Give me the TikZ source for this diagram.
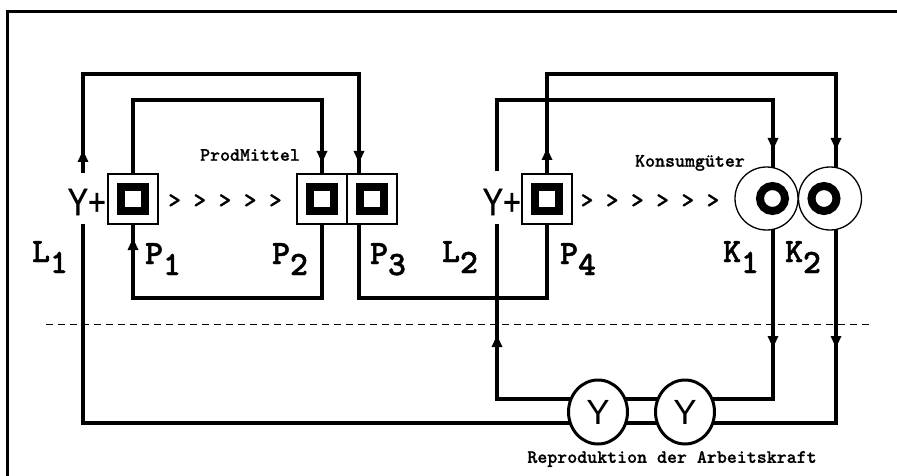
\documentclass[tikz,border=0pt]{standalone}
\usepackage{fontspec}
\usepackage{graphicx}
\setmainfont{Liberation Sans}
\newfontfamily\courb{lmmonolt10-bold.otf}[FakeBold=1.4]
\newfontfamily\courc{lmmonolt10-bold.otf}[FakeBold=0.8]
\newfontfamily\ysans{Liberation Sans}[FakeBold=1.0]
\usetikzlibrary{decorations.markings,arrows.meta,backgrounds,shapes.geometric}
\newcommand{\sublab}[2]{#1\raisebox{-11pt}{#2}}
\begin{document}
\begin{tikzpicture}[x=1pt,y=-1pt,
  conn/.style={line width=4pt},
  arr/.style={postaction={decorate},decoration={markings,mark=at position #1 with {\arrow{Triangle[width=10pt,length=12pt]}}}},
  arrtwo/.style 2 args={postaction={decorate},decoration={markings,
      mark=at position #1 with {\arrow{Triangle[width=10pt,length=12pt]}},
      mark=at position #2 with {\arrow{Triangle[width=10pt,length=12pt]}}}},
  pbox/.style={draw,line width=1.2pt,fill=white,minimum size=50pt,inner sep=0pt,
     path picture={\draw[line width=8pt] ([shift={(-12pt,-12pt)}]path picture bounding box.center) rectangle ++(24pt,24pt);}},
  kcirc/.style={circle,draw,line width=1.3pt,fill=white,minimum size=63pt,inner sep=0pt,
     path picture={\draw[line width=8pt] ([xshift=#1]path picture bounding box.center) circle[radius=12.5pt];}},
  yell/.style={ellipse,draw,line width=3pt,fill=white,minimum width=59pt,minimum height=64pt,inner sep=0pt,font=\fontsize{35}{35}\selectfont},
  lab/.style={anchor=base west,inner sep=0pt,font=\courb\fontsize{34}{34}\selectfont},
  small/.style={inner sep=0pt,font=\courc\fontsize{19}{20}\selectfont},
  chev/.style={inner sep=0pt,font=\courc\fontsize{24}{24}\selectfont},
  yplus/.style={anchor=east,inner sep=0pt,font=\ysans\fontsize{38}{38}\selectfont},
]
\useasboundingbox (0,0) rectangle (897,476);
% frame
\coordinate (fb) at (7.5,476);
\coordinate (fc) at (7.5,11.5);
\coordinate (fr) at (897,11.5);
\draw[line width=3pt] (fb) -- (fc) -- (fr);
% dashed separator
\coordinate (dl) at (46,324);
\coordinate (dr) at (873,324);
\draw[line width=1pt,dash pattern=on 7pt off 5pt] (dl) -- (dr);

% nodes
\node[pbox] (P1) at (133,199) {};
\node[pbox] (P2) at (322,199) {};
\node[pbox] (P3) at (372,199) {};
\node[pbox] (P4) at (547,199) {};
\node[kcirc=6pt] (K1) at (766.5,198.5) {};
\node[kcirc=-6pt] (K2) at (830,198.5) {};
\node[yell] (E1) at (598,412) {Y};
\node[yell] (E2) at (685,412) {Y};
\node[yplus] (Y1) at (106,202) {\scalebox{0.8}[1]{Y+}};
\node[yplus] (Y2) at (521,202) {\scalebox{0.8}[1]{Y+}};

% labels
\node[lab] (L1) at (32,262) {\sublab{L}{1}};
\node[lab] (LP1) at (145,264) {\sublab{P}{1}};
\node[lab] (LP2) at (272,264) {\sublab{P}{2}};
\node[lab] (LP3) at (370,264) {\sublab{P}{3}};
\node[lab] (L2) at (442,262) {\sublab{L}{2}};
\node[lab] (LP4) at (560,264) {\sublab{P}{4}};
\node[lab] (LK1) at (723,262) {\sublab{K}{1}};
\node[lab] (LK2) at (785,262) {\sublab{K}{2}};
\node[small] (pm) at (250,155) {ProdMittel};
\node[small] (kg) at (690,163) {Konsumgüter};
\node[small] (ra) at (672,459) {Reproduktion der Arbeitskraft};
\node[chev] (ch1) at (225,201) {> > > > >};
\node[chev] (ch2) at (650,201) {> > > > > >};

% helper coordinates
\coordinate (y1t) at (83,173);
\coordinate (y1b) at (83,224);
\coordinate (y2t) at (497,171);
\coordinate (y2b) at (497,224);
\coordinate (tA) at (359,74);
\coordinate (bB) at (836,423);
\coordinate (tC) at (228,100);
\coordinate (tD) at (228,298);
\coordinate (tE) at (359,298);
\coordinate (tF) at (700,74);
\coordinate (tG) at (600,100);
\coordinate (k1x) at (773,399);

\begin{scope}[on background layer]
\draw[conn,arrtwo={23pt}{-36pt}] (y1t) |- (tA) -- (tA |- P3.center);
\draw[conn,arr=149.5pt] (bB |- K2.center) -- (bB) -| (y1b);
\draw[conn,arr=-36pt] (P1.center) |- (tC) -| (P2.center);
\draw[conn,arr=-39pt] (P2.center) |- (tD) -| (P1.center);
\draw[conn] (tE |- P3.center) -- (tE) -| (P4.center);
\draw[conn,arrtwo={51pt}{-48.5pt}] (P4.center) |- (tF) -| (bB |- K2.center);
\draw[conn,arr=-48.5pt] (y2t) |- (tG) -| (k1x |- K1.center);
\draw[conn,arrtwo={149.5pt}{-111pt}] (k1x |- K1.center) -- (k1x) -| (y2b);
\end{scope}
\end{tikzpicture}
\end{document}
